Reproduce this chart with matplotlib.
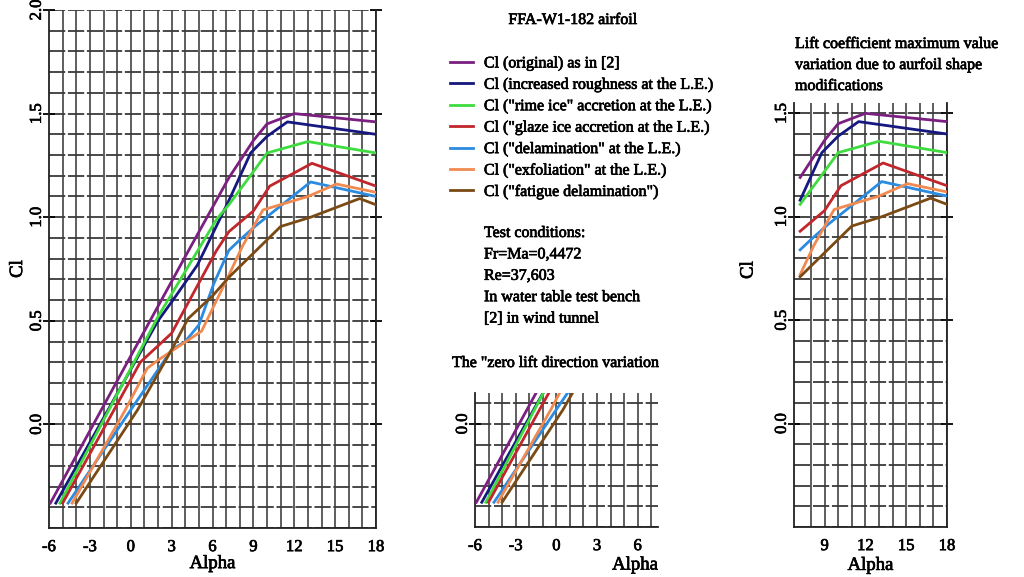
import numpy as np
import matplotlib
matplotlib.use('Agg')
import matplotlib.pyplot as plt
import matplotlib.patheffects as pe
from matplotlib.text import Text

plt.rcParams['font.family'] = ['Liberation Serif', 'DejaVu Serif']

# angle of attack / lift coefficient
labels = ['Cl (original) as in [2]',
          'Cl (increased roughness at the L.E.)',
          'Cl ("rime ice" accretion at the L.E.)',
          'Cl ("glaze ice accretion at the L.E.)',
          'Cl ("delamination" at the L.E.)',
          'Cl ("exfoliation" at the L.E.)',
          'Cl ("fatigue delamination")']
colors = ['#7b1f80', '#16177f', '#3fdc3f', '#c0262b', '#2a8be0', '#f08a50', '#7a4a14']

alpha_orig = [-5.9, 0, 4, 7.2, 8, 9, 10, 12, 18]
cl_orig = [-0.38, 0.33, 0.81, 1.19, 1.27, 1.37, 1.45, 1.50, 1.46]

alpha_rough = [-5.5, 2.0, 3.1, 4.9, 7.2, 8.8, 10.0, 11.5, 18]
cl_rough = [-0.38, 0.50, 0.60, 0.77, 1.08, 1.31, 1.39, 1.46, 1.40]

alpha_rime = [-5.2, 2.0, 6.3, 7.2, 9.0, 10.0, 13.0, 18]
cl_rime = [-0.38, 0.52, 0.99, 1.06, 1.22, 1.31, 1.365, 1.31]

alpha_glaze = [-5.0, 0.7, 3.0, 6.3, 7.2, 9.0, 10.2, 13.3, 18]
cl_glaze = [-0.38, 0.30, 0.44, 0.84, 0.93, 1.03, 1.15, 1.26, 1.15]

alpha_delam = [-4.6, 0.0, 3.0, 4.0, 5.0, 6.1, 7.2, 8.0, 9.2, 13.2, 18]
cl_delam = [-0.38, 0.07, 0.36, 0.40, 0.48, 0.68, 0.84, 0.89, 0.96, 1.17, 1.10]

alpha_exfol = [-4.3, -0.4, 1.2, 2.0, 5.2, 7.2, 8.2, 9.7, 13.0, 15.1, 18]
cl_exfol = [-0.38, 0.07, 0.27, 0.31, 0.45, 0.72, 0.86, 1.035, 1.10, 1.16, 1.12]

alpha_fatig = [-4.0, 0.5, 3.0, 4.2, 6.0, 7.2, 11.0, 13.2, 16.8, 18]
cl_fatig = [-0.38, 0.07, 0.36, 0.51, 0.62, 0.71, 0.955, 1.00, 1.09, 1.06]

series = [(alpha_orig, cl_orig), (alpha_rough, cl_rough), (alpha_rime, cl_rime),
          (alpha_glaze, cl_glaze), (alpha_delam, cl_delam), (alpha_exfol, cl_exfol),
          (alpha_fatig, cl_fatig)]

W, H = 1024, 577
fig = plt.figure(figsize=(W / 100, H / 100), dpi=100)

def box(x0, y0, x1, y1):
    return [x0 / W, 1 - y1 / H, (x1 - x0) / W, (y1 - y0) / H]

ax1 = fig.add_axes(box(49, 10, 376, 528))
ax2 = fig.add_axes(box(475, 393, 658, 527))
ax3 = fig.add_axes(box(794, 103, 947, 527))

def paper(ax, xlim, ylim, xticks, yticks, xgrid_from):
    ax.set_xlim(*xlim)
    ax.set_ylim(*ylim)
    ax.set_xticks(xticks)
    ax.set_yticks(yticks)
    ax.set_xticklabels([str(t) for t in xticks])
    ax.set_yticklabels(['%.1f' % t for t in yticks], rotation=90, va='center')
    for g in np.arange(xgrid_from, xlim[1] + 0.01, 1.0):
        ax.axvline(g, color='#333333', lw=1.1, zorder=1)
    for g in np.arange(-0.5, ylim[1] + 0.001, 0.1):
        ax.axhline(g, color='#3a3a3a', lw=1.3, ls=(0, (9, 1.5)), zorder=1)
    ax.spines['top'].set_visible(False)
    for s in ['left', 'bottom', 'right']:
        ax.spines[s].set_linewidth(1.3)
        ax.spines[s].set_color('#222222')
    ax.tick_params(axis='x', length=0, labelsize=12, pad=8)
    ax.tick_params(axis='y', direction='inout', length=8, width=1.3,
                   labelsize=12, pad=-1, right=True)
    ax.set_facecolor('white')

paper(ax1, (-6, 18), (-0.5, 2.0), [-6, -3, 0, 3, 6, 9, 12, 15, 18],
      [0.0, 0.5, 1.0, 1.5, 2.0], -5)
paper(ax2, (-6, 7.5), (-0.5, 0.15), [-6, -3, 0, 3, 6], [0.0], -5)
paper(ax3, (6.75, 18), (-0.5, 1.55), [9, 12, 15, 18], [0.0, 0.5, 1.0, 1.5], 8)
ax2.spines['right'].set_visible(False)
ax2.tick_params(axis='y', right=False)

for (a, c), col, lab in zip(series, colors, labels):
    ax1.plot(a, c, color=col, lw=2.0, label=lab, zorder=3)
    ax2.plot(a, c, color=col, lw=2.0, zorder=3)
    a = np.array(a)
    c = np.array(c)
    keep = a >= 7.2
    ax3.plot(a[keep], c[keep], color=col, lw=2.0, zorder=3)

ax1.set_xlabel('Alpha', fontsize=13.5, labelpad=0)
ax1.set_ylabel('Cl', fontsize=13.5, labelpad=2)
ax3.set_xlabel('Alpha', fontsize=13.5, labelpad=2)
ax3.set_ylabel('Cl', fontsize=13.5)
ax3.yaxis.set_label_coords(-0.245, 0.606)
ax2.text(1.0, -0.22, 'Alpha', transform=ax2.transAxes, fontsize=13.5,
         ha='right', va='top')

handles, labs = ax1.get_legend_handles_labels()
fig.legend(handles, labs, loc='upper left', bbox_to_anchor=(436 / W, 1 - 41 / H),
           frameon=False, fontsize=11.5, handlelength=1.4, handletextpad=0.7,
           labelspacing=0.34)

fig.text(573 / W, 1 - 20 / H, 'FFA-W1-182 airfoil', fontsize=11.5, ha='center', va='center')
fig.text(484 / W, 1 - 225 / H,
         'Test conditions:\nFr=Ma=0,4472\nRe=37,603\nIn water table test bench\n[2] in wind tunnel',
         fontsize=11.5, ha='left', va='top', linespacing=1.45)
fig.text(452 / W, 1 - 363 / H, 'The "zero lift direction variation', fontsize=11.5,
         ha='left', va='center')
fig.text(795 / W, 1 - 36 / H,
         'Lift coefficient maximum value\nvariation due to aurfoil shape\nmodifications',
         fontsize=11.5, ha='left', va='top', linespacing=1.42)

# scanned print looks a little heavier than the plain face
for t in fig.findobj(Text):
    t.set_path_effects([pe.withStroke(linewidth=0.5, foreground=t.get_color())])

fig.savefig('out.png', dpi=100)
